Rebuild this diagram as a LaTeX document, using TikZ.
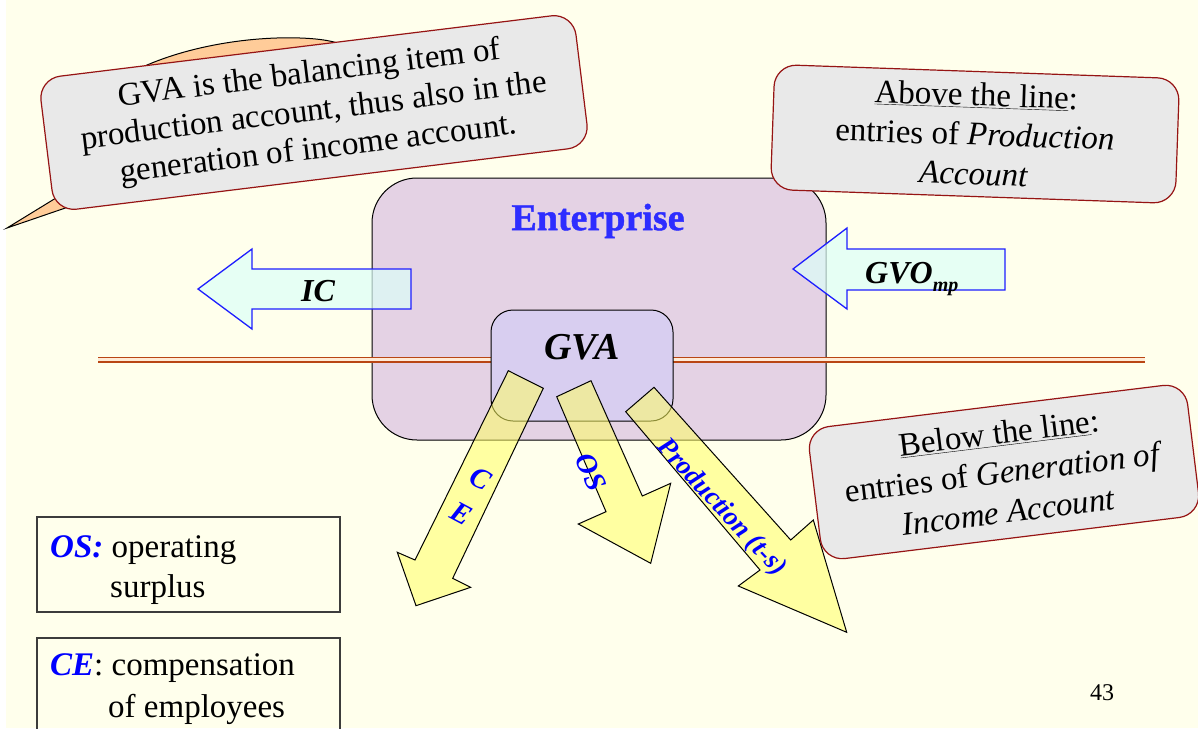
\documentclass[tikz,border=0pt]{standalone}
\usepackage{fontspec}
\setmainfont{Liberation Serif}
\newfontfamily\tnr{Liberation Serif}
\newfontfamily\entfont[BoldFeatures={FakeBold=1.2}]{Liberation Serif}
\definecolor{bg}{RGB}{255,255,236}
\definecolor{entfill}{RGB}{228,210,228}
\definecolor{gvafill}{RGB}{216,206,240}
\definecolor{notegray}{RGB}{233,233,233}
\definecolor{notered}{RGB}{150,20,20}
\definecolor{cyanfill}{RGB}{220,255,248}
\definecolor{arrowblue}{RGB}{30,30,255}
\definecolor{yelfill}{RGB}{255,255,100}
\definecolor{orangefill}{RGB}{255,204,153}
\definecolor{linebrown}{RGB}{185,70,20}
\definecolor{entblue}{RGB}{45,45,255}
\definecolor{legendgray}{RGB}{60,60,60}
\newcommand\nfnt{\tnr\fontsize{33}{38}\selectfont}
\newcommand\nfntb{\tnr\fontsize{33}{39.5}\selectfont}
\newcommand\lfnt{\tnr\fontsize{33}{40}\selectfont}
\begin{document}
\begin{tikzpicture}[x=1pt,y=-1pt,
  note/.style={draw=notered, fill=notegray, rounded corners=22pt, line width=1.2pt,
               inner sep=0pt, align=center, font=\nfnt},
  callout/.style={fill=orangefill, draw=black, line width=1pt},
  bluearrow/.style={fill=cyanfill, fill opacity=0.7, draw=arrowblue, line width=1.3pt, line join=miter},
  yelarrow/.style={fill=yelfill, fill opacity=0.55, draw=black, line width=1pt, line join=miter},
  arrlabel/.style={text=blue, font=\tnr\fontsize{29}{40}\selectfont\bfseries\itshape, align=center, inner sep=0pt},
  legendbox/.style={draw=legendgray, line width=1.2pt, inner sep=0pt},
  legendtext/.style={anchor=base west, inner sep=0pt, font=\lfnt},
  brownline/.style={draw=linebrown, line width=1.6pt}
]
\useasboundingbox (0,0) rectangle (1198,728);
\fill[bg] (0,0) rectangle (1198,728);
\fill[white] (0,0) rectangle (6,728);

% orange callout behind first note
\draw[callout] (125,76) .. controls (170,50) and (240,36) .. (300,38)
  .. controls (330,39) and (345,44) .. (350,50) -- (300,150) -- (150,179)
  -- (7,228) -- (100,171) -- cycle;

\node[note, rotate=7, minimum width=539, minimum height=134] (n1) at (314,112.5)
  {GVA is the balancing item of\\production account, thus also in the\\generation of income account.};

% enterprise box
\node[draw=black, line width=1pt, fill=entfill, rounded corners=45pt,
      minimum width=454, minimum height=262, inner sep=0pt] (ent) at (599,309) {};

% the line (two thin brown rules)
\coordinate (lineL) at (98,357.3);
\coordinate (lineR) at (1145,357.3);
\coordinate (lineL2) at (98,361.8);
\coordinate (lineR2) at (1145,361.8);
\fill[white!60!orangefill] (98,357.3) rectangle (1145,361.8);
\draw[brownline] (lineL) -- (lineR);
\draw[brownline] (lineL2) -- (lineR2);

% IC arrow
\draw[bluearrow] (198,289) -- (252,249) -- (252,269) -- (411,269) -- (411,309)
  -- (252,309) -- (252,329) -- cycle;
\node[font=\tnr\fontsize{32}{32}\selectfont\bfseries\itshape, inner sep=0pt] (ic) at (318,291) {IC};

% GVO arrow
\draw[bluearrow] (793,269) -- (847,228) -- (847,249) -- (1005,249) -- (1005,290)
  -- (847,290) -- (847,309) -- cycle;
\node[anchor=base west, inner sep=0pt, font=\tnr\fontsize{32}{32}\selectfont\bfseries\itshape] (gvo) at (865,283)
  {GVO\raisebox{-8pt}{\fontsize{20}{20}\selectfont mp}};

% GVA box
\node[draw=black, line width=1pt, fill=gvafill, rounded corners=22pt,
      minimum width=182, minimum height=111, inner sep=0pt] (gva) at (582,365.5) {};
\node[font=\tnr\fontsize{38}{38}\selectfont\bfseries\itshape, inner sep=0pt] (gvatext) at (582,347) {GVA};

\node[text=entblue, font=\entfont\fontsize{38}{38}\selectfont\bfseries, inner sep=0pt] (enttext) at (598,221) {Enterprise};

% yellow arrows
\draw[yelarrow] (543.3,388.3) -- (508.3,370.7) -- (415,560) -- (397.3,552.3)
  -- (416,605.7) -- (470.7,587.3) -- (452.7,578.3) -- cycle;
\draw[yelarrow] (556.7,396.7) -- (591,380.7) -- (642.3,496) -- (670.7,483.3)
  -- (650.7,563.3) -- (578.3,524) -- (606,511.7) -- cycle;
\draw[yelarrow] (625.7,411.7) -- (654,387.3) -- (790.7,540) -- (813.3,520)
  -- (846.7,632.3) -- (738.3,586) -- (760,570) -- cycle;

\node[arrlabel, rotate=-28] (ce) at (471,496) {C\\E};
\node[arrlabel, rotate=-66] (os) at (591,472) {OS};
\node[arrlabel, rotate=-47, font=\tnr\fontsize{27}{30}\selectfont\bfseries\itshape] (prod) at (721,508) {Production (t-s)};

% right notes
\node[note, font=\nfntb, rotate=-2, minimum width=405, minimum height=125] (n2) at (975,134)
  {\underline{Above the line}:\\entries of \textit{Production}\\\textit{Account}};
\node[note, font=\nfntb, rotate=7, minimum width=381, minimum height=133] (n3) at (1004,472)
  {\underline{Below the line}:\\entries of \textit{Generation of}\\\textit{Income Account}};

% legend
\node[legendbox, minimum width=303, minimum height=95] (leg1) at (188.5,564.5) {};
\node[legendtext] (leg1a) at (50,557) {\textcolor{blue}{\bfseries\itshape OS:} operating};
\node[legendtext] (leg1b) at (110,597) {surplus};
\node[legendbox, minimum width=303, minimum height=102] (leg2) at (188.5,689) {};
\node[legendtext] (leg2a) at (50,675) {\textcolor{blue}{\bfseries\itshape CE}: compensation};
\node[legendtext] (leg2b) at (108,717) {of employees};

\node[anchor=base west, inner sep=0pt, font=\tnr\fontsize{24}{24}\selectfont] (pnum) at (1090,700) {43};
\end{tikzpicture}
\end{document}
